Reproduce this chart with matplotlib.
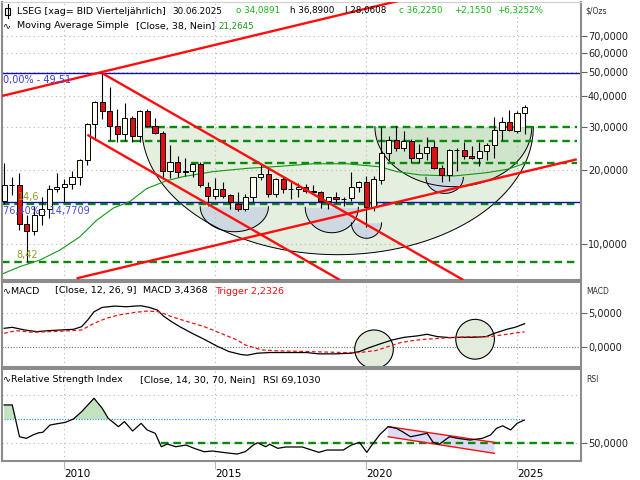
import numpy as np
import matplotlib.pyplot as plt
from matplotlib.patches import Ellipse, Polygon, Rectangle
from matplotlib.lines import Line2D

plt.rcParams['font.family'] = ['DejaVu Sans']

# quarterly candles, silver in $/oz, 2008 Q1 .. 2025 Q2
years = list(range(2008, 2026))
quarters = [y + q * 0.25 for y in years for q in range(4)][:70]
opens = [14.9, 17.3, 17.4, 12.1, 11.3, 13.1, 13.9, 16.7, 17.0, 17.5,
         18.7, 22.0, 30.9, 37.9, 34.6, 30.1, 28.0, 32.4, 27.6, 34.8,
         30.2, 28.4, 19.8, 21.6, 19.6, 19.9, 21.1, 17.1, 15.7, 16.7,
         15.8, 14.6, 13.9, 15.5, 18.8, 19.2, 16.0, 18.3, 16.7, 16.7,
         17.0, 16.4, 16.3, 14.9, 15.6, 15.3, 15.4, 17.1, 17.9, 14.1,
         18.2, 23.4, 26.5, 24.5, 26.3, 22.3, 23.4, 24.8, 20.3, 19.1,
         24.1, 24.2, 22.8, 22.3, 23.9, 25.2, 29.2, 31.2, 28.8, 34.09]
highs = [21.3, 18.8, 19.4, 13.1, 14.3, 15.6, 17.3, 19.4, 18.3, 19.8,
         22.1, 31.0, 38.2, 49.51, 43.6, 35.5, 37.5, 33.2, 35.0, 35.4,
         32.5, 28.7, 25.3, 22.8, 22.3, 21.4, 21.6, 17.9, 18.5, 17.8,
         16.0, 16.2, 16.0, 18.8, 21.2, 20.3, 18.5, 18.7, 17.8, 17.7,
         17.6, 17.3, 16.5, 15.6, 16.2, 15.5, 19.7, 18.0, 18.9, 18.9,
         29.9, 27.4, 30.1, 28.7, 26.8, 25.4, 27.3, 26.2, 20.9, 24.3,
         24.6, 26.1, 25.0, 26.0, 25.8, 32.9, 32.7, 35.1, 34.6, 36.89]
lows = [14.6, 15.8, 11.4, 8.42, 10.9, 11.9, 12.8, 16.2, 14.8, 16.8,
        17.4, 21.0, 26.4, 32.3, 26.5, 26.1, 26.2, 26.1, 26.1, 29.9,
        27.9, 18.5, 18.6, 18.8, 18.9, 18.7, 17.1, 14.3, 15.3, 15.4,
        13.9, 13.6, 13.6, 14.8, 18.2, 15.6, 15.6, 16.1, 15.2, 15.6,
        16.1, 15.9, 14.0, 13.9, 14.7, 14.3, 14.9, 16.2, 11.7, 13.6,
        17.5, 21.9, 23.8, 24.0, 21.4, 21.4, 21.9, 20.2, 17.9, 18.1,
        19.9, 22.1, 22.1, 20.7, 21.9, 22.3, 26.5, 28.7, 28.3, 28.06]
closes = [17.3, 17.4, 12.1, 11.3, 13.1, 13.9, 16.7, 17.0, 17.5, 18.7,
          22.0, 30.9, 37.9, 34.6, 30.1, 28.0, 32.4, 27.6, 34.8, 30.2,
          28.4, 19.8, 21.6, 19.6, 19.9, 21.1, 17.4, 15.7, 16.7, 15.7,
          14.8, 13.9, 15.5, 18.8, 19.2, 16.0, 18.3, 16.7, 16.7, 17.0,
          16.4, 16.3, 14.9, 15.6, 15.3, 15.3, 17.1, 17.9, 14.1, 18.3,
          23.4, 26.5, 24.5, 26.3, 22.3, 23.4, 24.8, 20.3, 19.1, 24.1,
          24.2, 22.9, 22.3, 23.9, 25.2, 29.2, 31.2, 29.0, 34.07, 36.225]

# simple moving average (38)
ma_x = [2007.93, 2008.52, 2009.19, 2009.85, 2010.51, 2011.07, 2011.62, 2012.17,
        2012.72, 2013.39, 2013.94, 2014.93, 2016.04, 2017.14, 2018.25, 2019.35,
        2020.46, 2021.01, 2021.78, 2022.89, 2023.99, 2024.66, 2025.25]
ma_y = [7.55, 8.09, 8.61, 9.45, 10.7, 12.5, 14.0, 14.9, 16.8, 18.1, 18.8, 19.7,
        20.3, 20.7, 21.2, 21.2, 20.6, 19.7, 19.1, 18.9, 19.5, 20.1, 21.26]

# MACD and trigger
macd_x = [2008.0, 2008.27, 2008.68, 2009.08, 2009.49, 2009.89, 2010.30, 2010.57,
          2010.77, 2010.98, 2011.25, 2011.66, 2012.06, 2012.33, 2012.54, 2012.81,
          2013.08, 2013.28, 2013.55, 2013.82, 2014.23, 2014.63, 2015.04, 2015.45,
          2015.85, 2016.06, 2016.39, 2016.80, 2017.34, 2018.02, 2018.43, 2018.97,
          2019.51, 2019.78, 2020.05, 2020.46, 2020.87, 2021.27, 2021.68, 2022.02,
          2022.36, 2022.76, 2023.17, 2023.58, 2023.98, 2024.25, 2024.66, 2024.93,
          2025.25]
macd_y = [2.75, 2.9, 2.5, 2.25, 2.4, 2.5, 2.6, 3.0, 4.0, 5.24, 5.9, 6.1, 6.0,
          6.1, 6.15, 5.9, 5.5, 4.6, 3.75, 3.0, 2.0, 1.1, 0.1, -0.75, -1.2, -1.3,
          -1.0, -0.9, -0.9, -0.9, -1.1, -1.1, -1.0, -0.75, -0.25, 0.4, 1.0, 1.4,
          1.6, 1.85, 1.5, 1.35, 1.4, 1.4, 1.5, 2.0, 2.6, 2.9, 3.44]
trig_x = [2008.0, 2008.40, 2008.95, 2009.49, 2010.03, 2010.57, 2010.98, 2011.38,
          2011.79, 2012.33, 2012.74, 2013.14, 2013.55, 2014.09, 2014.63, 2015.18,
          2015.72, 2015.99, 2016.53, 2017.07, 2017.61, 2018.43, 2019.24, 2019.78,
          2020.32, 2020.73, 2021.14, 2021.54, 2021.95, 2022.49, 2023.03, 2023.58,
          2024.12, 2024.66, 2025.25]
trig_y = [2.0, 2.4, 2.15, 2.25, 2.35, 2.5, 3.5, 4.25, 4.75, 5.15, 5.35, 5.25,
          4.5, 3.75, 3.0, 2.0, 1.0, 0.25, -0.5, -0.65, -0.7, -0.8, -0.9, -0.9,
          -0.6, 0.0, 0.6, 0.9, 1.1, 1.25, 1.4, 1.5, 1.5, 1.85, 2.23]

# RSI
rsi_x = [2008.0, 2008.27, 2008.51, 2008.74, 2008.95, 2009.15, 2009.28, 2009.52,
         2009.76, 2010.03, 2010.30, 2010.57, 2010.98, 2011.25, 2011.45, 2011.79,
         2011.99, 2012.26, 2012.54, 2012.74, 2013.01, 2013.21, 2013.41, 2013.69,
         2014.03, 2014.30, 2014.63, 2014.91, 2015.24, 2015.72, 2015.99, 2016.26,
         2016.40, 2016.67, 2016.80, 2017.07, 2017.34, 2017.88, 2018.43, 2018.70,
         2019.24, 2019.51, 2019.78, 2020.02, 2020.19, 2020.46, 2020.73, 2021.00,
         2021.20, 2021.47, 2021.75, 2022.02, 2022.22, 2022.42, 2022.76, 2023.03,
         2023.44, 2023.85, 2024.12, 2024.32, 2024.52, 2024.79, 2025.00, 2025.24]
rsi_y = [81.5, 81.5, 55.4, 54.1, 56.8, 58.7, 59.0, 65.0, 66.1, 67.2, 70.0, 76.0,
         87.0, 78.8, 70.5, 63.7, 67.8, 60.1, 66.4, 61.0, 58.2, 47.2, 49.4, 47.2,
         48.6, 45.9, 43.1, 43.7, 42.6, 41.2, 43.1, 48.6, 50.5, 47.2, 49.2, 45.9,
         47.0, 47.0, 42.6, 44.5, 44.5, 48.6, 50.8, 42.6, 48.6, 57.4, 63.7, 62.3,
         59.6, 55.4, 56.8, 58.2, 50.8, 49.2, 55.4, 54.1, 52.7, 54.1, 56.8, 62.3,
         64.4, 61.0, 66.4, 69.1]

# drawn objects: support/resistance levels and trend lines
levels = [30.0, 26.2, 21.4, 14.6, 8.42]
level_start = [2012.67, 2011.45, 2014.2, 2007.93, 2007.93]
trend_lines = [((2007.93, 40.0), (2021.19, 98.2)),
               ((2010.40, 7.25), (2026.98, 22.1)),
               ((2011.25, 49.51), (2023.22, 7.14)),
               ((2010.76, 27.8), (2019.13, 7.14))]

XMIN, XMAX = 2007.93, 2027.12
RED = '#ff0d0d'
DGREEN = '#0a8a0a'

fig = plt.figure(figsize=(6.4, 4.8), dpi=100, facecolor='white')


def frac_box(x0, y0, x1, y1):
    return [x0 / 640, 1 - y1 / 480, (x1 - x0) / 640, (y1 - y0) / 480]


ax = fig.add_axes(frac_box(2, 2, 581, 280))
ax2 = fig.add_axes(frac_box(2, 282, 581, 367))
ax3 = fig.add_axes(frac_box(2, 369, 581, 461))

for a in (ax, ax2, ax3):
    a.set_xlim(XMIN, XMAX)
    for s in a.spines.values():
        s.set_color('#8c8c8c')
        s.set_linewidth(1.5)
    a.yaxis.tick_right()
    a.tick_params(axis='y', which='both', direction='out', length=4,
                  color='#606060', labelsize=7, labelcolor='#202020', pad=1)
    a.tick_params(axis='x', length=0)
    for yr in [2010, 2015, 2020, 2025]:
        a.axvline(yr, color='#b8b8b8', lw=0.8, ls=(0, (1, 3)), zorder=1)
ax.spines['top'].set_color('#d0d0d0')
ax.spines['top'].set_linewidth(0.8)

# ---------- main panel ----------
ax.set_yscale('log')
ax.set_ylim(7.14, 96.4)
ax.minorticks_off()
yt = [10, 20, 30, 40, 50, 60, 70]
ax.set_yticks(yt)
ax.set_yticklabels([f'{v},0000' for v in yt])
ax.set_xticks([])
for v in yt:
    ax.axhline(v, color='#b8b8b8', lw=0.8, ls=(0, (1, 3)), zorder=1)


def half_ellipse(cx, hw, top, depth, n=200):
    t = np.linspace(0, np.pi, n)
    xs = cx - hw * np.cos(t)
    ys = 10 ** (np.log10(top) - depth * np.sin(t))
    return xs, ys


# big cup, small cup and mini cups
cups = [(2019.05, 6.49, 30.0, 0.5205, '#e4efe0'),
        (2022.89, 2.60, 30.0, 0.244, '#cfe4cb')]
mini = [(2015.63, 1.13, 14.18, 0.1017),
        (2018.86, 0.88, 14.1, 0.1033),
        (2020.01, 0.50, 12.2, 0.063),
        (2022.60, 0.62, 18.66, 0.065)]
for i, (cx, hw, top, d, col) in enumerate(cups):
    xs, ys = half_ellipse(cx, hw, top, d)
    ax.fill_between(xs, ys, top, color=col, lw=0, zorder=0.5 + i * 0.1)
    ax.plot(xs, ys, color='black', lw=0.7, zorder=1.5)
for cx, hw, top, d in mini:
    xs, ys = half_ellipse(cx, hw, top, d)
    ax.fill_between(xs, ys, top, color='#cdd8e1', lw=0, zorder=0.8)
    ax.plot(xs, ys, color='black', lw=0.7, zorder=1.5)

# levels
for lv, x0 in zip(levels, level_start):
    ax.plot([x0, 2026.99], [lv, lv], color=DGREEN, lw=1.7,
            ls=(0, (3.2, 2.0)), zorder=2)
ax.axhline(49.51, color='#1010b0', lw=1.0, zorder=2.2)
ax.axhline(14.7709, color='#1010b0', lw=1.0, zorder=2.2)

# moving average
ax.plot(ma_x, ma_y, color='#119911', lw=0.8, zorder=2.3)

# candles
o = np.array(opens)
c = np.array(closes)
ax.vlines(quarters, lows, highs, color='black', lw=0.8, zorder=2.8)
up = c >= o
body_lo = np.minimum(o, c)
body_h = np.abs(c - o)
ax.bar(np.array(quarters)[up], body_h[up], bottom=body_lo[up], width=0.17,
       color='#fffff2', edgecolor='black', lw=0.7, zorder=3)
ax.bar(np.array(quarters)[~up], body_h[~up], bottom=body_lo[~up], width=0.17,
       color='#e01010', edgecolor='black', lw=0.7, zorder=3)

# trend lines
for (x0, y0), (x1, y1) in trend_lines:
    ax.plot([x0, x1], [y0, y1], color=RED, lw=1.7, zorder=4,
            solid_capstyle='butt')

ax.text(2007.97, 46.6, '0,00% - 49,51', color='#3a3ae0', fontsize=7, zorder=5,
        va='center')
ax.text(2007.97, 13.6, '76,40% - 14,7709', color='#4a4ae8', fontsize=7,
        zorder=5, va='center')
ax.text(2008.45, 15.6, '14,6', color='#8f9a1a', fontsize=7, zorder=5,
        va='center')
ax.text(2008.4, 9.03, '8,42', color='#8f9a1a', fontsize=7, zorder=5,
        va='center')

# ---------- MACD panel ----------
ax2.set_ylim(-3.08, 9.73)
ax2.set_yticks([5, 0])
ax2.set_yticklabels(['5,0000', '0,0000'])
ax2.set_xticks([])
ax2.axhline(5, color='#b8b8b8', lw=0.8, ls=(0, (1, 3)), zorder=1)
ax2.axhline(0, color='#707070', lw=0.8, ls=(0, (1, 1.5)), zorder=1)
for cx, cy, h in [(2020.26, -0.4, 5.8), (2023.61, 1.1, 6.0)]:
    ax2.add_patch(Ellipse((cx, cy), 1.28, h, facecolor='#e1ecdd',
                          edgecolor='black', lw=0.8, zorder=1.5))
ax2.plot(macd_x, macd_y, color='black', lw=0.9, zorder=3)
ax2.plot(trig_x, trig_y, color='#ee1111', lw=0.9, ls=(0, (3, 2)), zorder=3)

# ---------- RSI panel ----------
ax3.set_ylim(35.5, 111)
ax3.set_yticks([50])
ax3.set_yticklabels(['50,0000'])
ax3.axhline(50, color='#b8b8b8', lw=0.8, ls=(0, (1, 3)), zorder=1)
ax3.axhline(90, color='#b8b8b8', lw=0.8, ls=(0, (1, 3)), zorder=1)
rx = np.array(rsi_x)
ry = np.array(rsi_y)
ax3.plot([rx[0], rx[-1]], [70, 70], color='#3399ff', lw=0.9,
         ls=(0, (1, 1.2)), zorder=2)
ax3.fill_between(rx, ry, 70, where=ry > 70, interpolate=True,
                 color='#c3e2bf', lw=0, zorder=1.6)
ax3.plot([2013.21, 2026.99], [50, 50], color=DGREEN, lw=1.7,
         ls=(0, (3.2, 2.0)), zorder=2)
chan = [(2020.73, 63.7), (2024.25, 50.8), (2024.25, 41.8), (2020.73, 55.4)]
ax3.add_patch(Polygon(chan, closed=True, facecolor='#dcdcf6', lw=0,
                      zorder=1.7))
ax3.plot([chan[0][0], chan[1][0]], [chan[0][1], chan[1][1]], color=RED,
         lw=1.0, zorder=2.5)
ax3.plot([chan[3][0], chan[2][0]], [chan[3][1], chan[2][1]], color=RED,
         lw=1.0, zorder=2.5)
ax3.plot(rx, ry, color='black', lw=0.9, zorder=3)
ax3.set_xticks([2010, 2015, 2020, 2025])
ax3.set_xticklabels(['2010', '2015', '2020', '2025'], fontsize=7.5)
ax3.tick_params(axis='x', length=6, color='#b8b8b8', pad=0)
for lbl in ax3.get_xticklabels():
    lbl.set_ha('left')


# ---------- header texts ----------
def ptext(x, y, s, color='black', size=6.8):
    fig.text(x / 640, 1 - y / 480, s, color=color, fontsize=size,
             ha='left', va='center')


GREEN_TXT = '#14b814'
NUM = 6.3
ptext(17, 11, 'LSEG [xag= BID Vierteljährlich]')
ptext(172, 11, '30.06.2025', size=NUM)
ptext(236, 11, 'o 34,0891', GREEN_TXT, NUM)
ptext(290, 11, 'h 36,8900', size=NUM)
ptext(345, 11, 'l 28,0608', size=NUM)
ptext(399, 11, 'c 36,2250', GREEN_TXT, NUM)
ptext(454, 11, '+2,1550', GREEN_TXT, NUM)
ptext(497, 11, '+6,3252%', GREEN_TXT, NUM)
ptext(3, 26, '\u223f')
ptext(17, 26, 'Moving Average Simple')
ptext(136, 26, '[Close, 38, Nein]')
ptext(218, 26, '21,2645', '#1a9a1a', NUM)

ptext(3, 291, '\u223fMACD')
ptext(55, 291, '[Close, 12, 26, 9]')
ptext(143, 291, 'MACD 3,4368')
ptext(215, 291, 'Trigger 2,2326', '#ee1111')

ptext(3, 380, '\u223fRelative Strength Index')
ptext(140, 380, '[Close, 14, 30, 70, Nein]')
ptext(263, 380, 'RSI 69,1030')

ptext(585, 11, '$/Ozs', '#303030', 5.5)
ptext(586, 291, 'MACD', '#303030', 5.5)
ptext(586, 380, 'RSI', '#303030', 5.5)

# candle icon at top left
fig.add_artist(Line2D([7.5 / 640, 7.5 / 640], [1 - 4 / 480, 1 - 18 / 480],
                      color='black', lw=0.8))
fig.add_artist(Rectangle((5 / 640, 1 - 15 / 480), 5 / 640, 7 / 480,
                         facecolor='white', edgecolor='black', lw=0.8))

fig.savefig('out.png', dpi=100, facecolor='white')
